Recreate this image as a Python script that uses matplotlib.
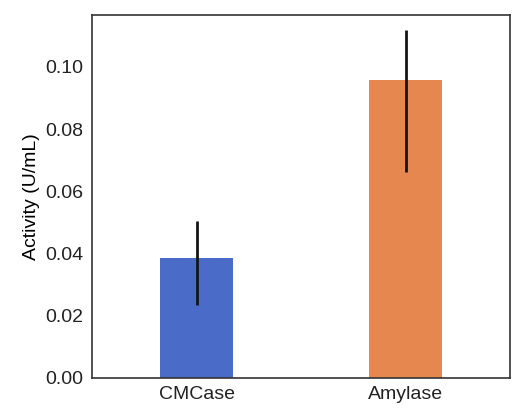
import matplotlib
matplotlib.use("Agg")
import matplotlib.pyplot as plt
import numpy as np

categories = ["CMCase", "Amylase"]
means = [0.0386, 0.0958]
err_low = [0.0151, 0.0296]
err_high = [0.0119, 0.0161]
colors = ["#4a6bc8", "#e5874f"]
yticks = [0.00, 0.02, 0.04, 0.06, 0.08, 0.10]

plt.rcParams['font.family'] = ['Liberation Sans', 'DejaVu Sans']
fig = plt.figure(figsize=(5.13, 4.08), dpi=100)
ax = fig.add_axes([92/513, 1-378/408, (510-92)/513, (378-15)/408])
x = np.arange(len(categories))
ax.bar(x, means, width=0.35, color=colors)
ax.errorbar(x, means, yerr=[err_low, err_high], fmt='none', ecolor='#151515', elinewidth=2.0, capsize=0)
ax.set_xlim(-0.5, 1.5)
ax.set_ylim(0, 0.1167)
ax.set_xticks(x)
ax.set_xticklabels(categories, fontsize=14)
ax.set_yticks(yticks)
ax.set_yticklabels([f"{v:.2f}" for v in yticks], fontsize=14)
ax.set_ylabel("Activity (U/mL)", fontsize=14)
ax.tick_params(length=0, pad=6, colors='#222222')
for s in ax.spines.values():
    s.set_color('#333333')
    s.set_linewidth(1.2)
fig.savefig("out.png", dpi=100)
